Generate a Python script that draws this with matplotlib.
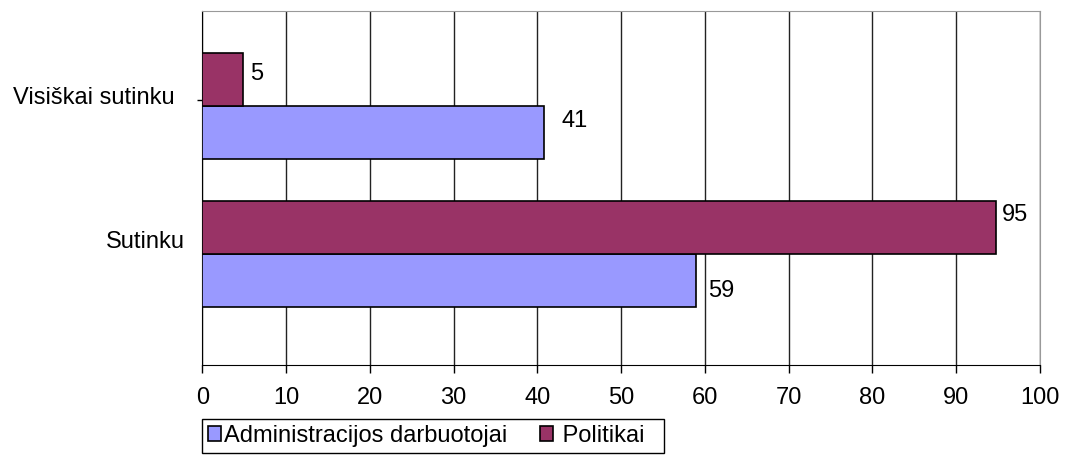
import matplotlib.pyplot as plt
import numpy as np

plt.rcParams['font.family'] = ['Liberation Sans', 'DejaVu Sans']

# dati
categorie = ["Visiškai sutinku", "Sutinku"]
serie = ["Administracijos darbuotojai", "Politikai"]
administracija = [40.8, 58.9]
politikai = [4.9, 94.8]
colori = ["#9999FF", "#993366"]

fig = plt.figure(figsize=(10.67, 4.57), dpi=100)
ax = fig.add_axes([202.3 / 1067, 1 - 365 / 457, (1040 - 202.3) / 1067, (365 - 11) / 457])

y = np.arange(len(categorie))
h = 0.36
b_adm = ax.barh(y + h / 2, administracija, height=h, color=colori[0], edgecolor="black", linewidth=1.2, label=serie[0], zorder=3)
b_pol = ax.barh(y - h / 2, politikai, height=h, color=colori[1], edgecolor="black", linewidth=1.2, label=" " + serie[1] + "  ", zorder=3)

# etichette dei valori (spostamenti in pixel come in excel)
spost_adm = [(17, 12), (12, -10)]
spost_pol = [(7, 5), (5, 12)]
for barre, valori, spost in [(b_adm, administracija, spost_adm), (b_pol, politikai, spost_pol)]:
    for barra, v, (dx, dy) in zip(barre, valori, spost):
        ax.annotate(f"{v:.0f}", (v, barra.get_y() + barra.get_height() / 2),
                    xytext=(dx, dy), textcoords="offset pixels", ha="left", va="center", fontsize=17)

ax.set_xlim(0, 100)
ax.set_ylim(1.75, -0.642)
ax.set_xticks(np.arange(0, 101, 10))
ax.tick_params(axis="x", labelsize=17, direction="out", length=6, width=1, pad=10)
# unico segno sull'asse verticale
ax.set_yticks([-0.04])
ax.set_yticklabels([""])
ax.tick_params(axis="y", direction="inout", length=7, width=1)
ax.grid(axis="x", color="#222222", linewidth=1, zorder=0)

# etichette categorie
ax.text(-0.0335, -0.054, categorie[0], transform=ax.get_yaxis_transform(), ha="right", va="center", fontsize=17)
ax.text(-0.0205, 0.92, categorie[1], transform=ax.get_yaxis_transform(), ha="right", va="center", fontsize=17)

ax.spines["left"].set_color("black")
ax.spines["bottom"].set_color("black")
ax.spines["top"].set_color("#999999")
ax.spines["right"].set_color("#999999")

fig.legend(handles=[b_adm, b_pol], loc="upper left", bbox_to_anchor=(202 / 1067, 1 - 419 / 457),
           ncol=2, fancybox=False, edgecolor="black", framealpha=1, fontsize=17,
           handlelength=0.55, handleheight=0.55, handletextpad=0.15, columnspacing=1.35,
           borderpad=0.25, borderaxespad=0)

fig.savefig("out.png", dpi=100)
